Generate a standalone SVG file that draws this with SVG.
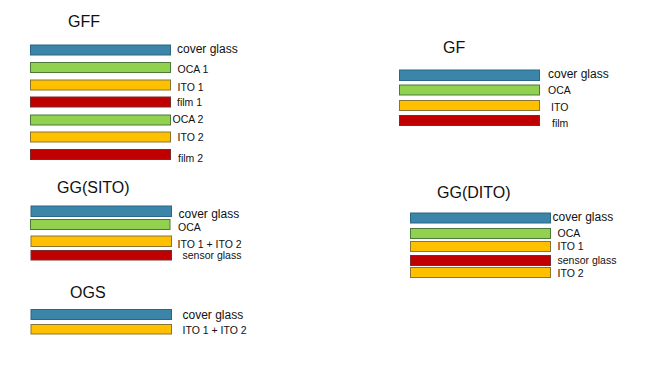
<svg xmlns="http://www.w3.org/2000/svg" width="672" height="386" viewBox="0 0 672 386">
<style>
.t{font-family:"Liberation Sans",Arial,sans-serif;font-size:16px;fill:#111}
.l{font-family:"Liberation Sans",Arial,sans-serif;font-size:12px;fill:#111}
.s{font-family:"Liberation Sans",Arial,sans-serif;font-size:10.5px;fill:#111}
rect.b{fill:#3a85a8;stroke:#2c6686;stroke-width:1}
rect.g{fill:#92d050;stroke:#4b7a3a;stroke-width:1}
rect.y{fill:#ffc000;stroke:#8a7434;stroke-width:1}
rect.r{fill:#c00000;stroke:#7a2c2c;stroke-width:1}
</style>
<rect width="672" height="386" fill="#ffffff"/>
<g id="GFF">
<text class="t" x="68" y="27">GFF</text>
<rect class="b" x="30.5" y="45" width="140" height="10"/>
<rect class="g" x="30.5" y="62.5" width="140" height="10"/>
<rect class="y" x="30.5" y="80" width="140" height="10"/>
<rect class="r" x="30.5" y="97" width="140" height="10"/>
<rect class="g" x="30.5" y="115" width="140" height="10"/>
<rect class="y" x="30.5" y="132" width="140" height="10"/>
<rect class="r" x="30.5" y="149.5" width="140" height="10"/>
<text class="l" x="177" y="53">cover glass</text>
<text class="s" x="177.5" y="73">OCA 1</text>
<text class="s" x="177.5" y="90.5">ITO 1</text>
<text class="s" x="177" y="106">film 1</text>
<text class="s" x="172.5" y="123">OCA 2</text>
<text class="s" x="177.5" y="140.5">ITO 2</text>
<text class="s" x="178" y="162">film 2</text>
</g>
<g id="GF">
<text class="t" x="443" y="53">GF</text>
<rect class="b" x="399.5" y="70" width="140" height="10.5"/>
<rect class="g" x="399.5" y="85" width="140" height="10"/>
<rect class="y" x="399.5" y="100.5" width="140" height="10"/>
<rect class="r" x="399.5" y="115.5" width="140" height="10"/>
<text class="l" x="548" y="77.5">cover glass</text>
<text class="s" x="548" y="93.5">OCA</text>
<text class="s" x="551" y="111">ITO</text>
<text class="s" x="552" y="126.5">film</text>
</g>
<g id="GGSITO">
<text class="t" x="57" y="192.5">GG(SITO)</text>
<rect class="b" x="31" y="206" width="140.5" height="10.5"/>
<rect class="g" x="30.5" y="219.5" width="139.5" height="10"/>
<rect class="y" x="31" y="236" width="140.5" height="10.5"/>
<rect class="r" x="31" y="250.5" width="140.5" height="9.5"/>
<text class="l" x="178.5" y="218">cover glass</text>
<text class="s" x="178" y="231">OCA</text>
<text class="s" x="177.5" y="248">ITO 1 + ITO 2</text>
<text class="s" x="182.5" y="258.5">sensor glass</text>
</g>
<g id="OGS">
<text class="t" x="70" y="297.5">OGS</text>
<rect class="b" x="31" y="309.5" width="140.5" height="10"/>
<rect class="y" x="31" y="324.5" width="140.5" height="9.5"/>
<text class="l" x="182.5" y="318.5">cover glass</text>
<text class="s" x="182.5" y="334">ITO 1 + ITO 2</text>
</g>
<g id="GGDITO">
<text class="t" x="437" y="197.5">GG(DITO)</text>
<rect class="b" x="410.5" y="213" width="140" height="10"/>
<rect class="g" x="410.5" y="228.5" width="140" height="10"/>
<rect class="y" x="410.5" y="241.5" width="140" height="10"/>
<rect class="r" x="410.5" y="255.5" width="140" height="10"/>
<rect class="y" x="410.5" y="267.5" width="140" height="10"/>
<text class="l" x="552.5" y="221">cover glass</text>
<text class="s" x="557.5" y="236.5">OCA</text>
<text class="s" x="557.5" y="249.5">ITO 1</text>
<text class="s" x="557.5" y="264">sensor glass</text>
<text class="s" x="557.5" y="277">ITO 2</text>
</g>
<g id="connectors"></g>
</svg>
